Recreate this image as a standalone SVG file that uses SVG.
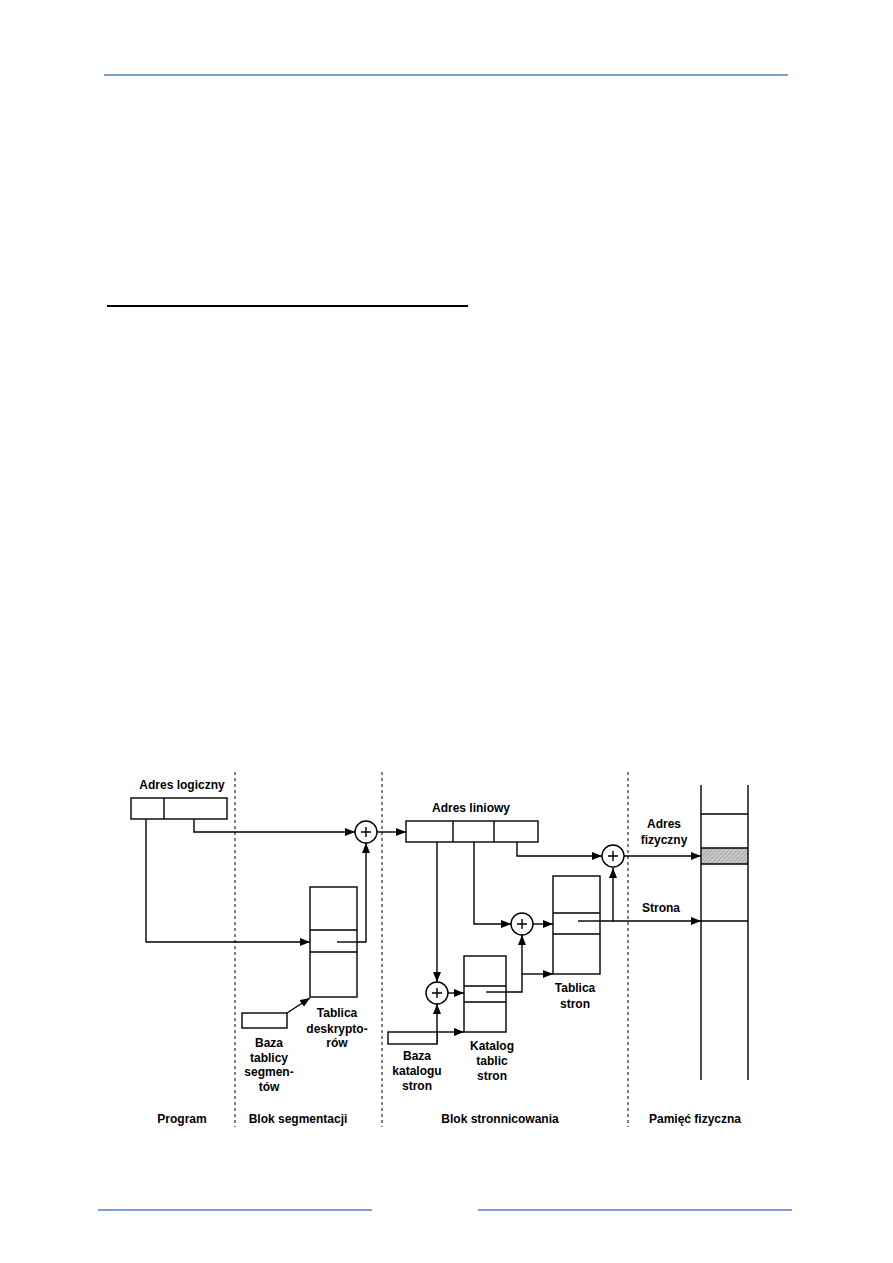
<svg xmlns="http://www.w3.org/2000/svg" width="893" height="1263" viewBox="0 0 893 1263">
<defs>
<marker id="arr" markerUnits="userSpaceOnUse" markerWidth="10" markerHeight="8" refX="10" refY="4" orient="auto">
<path d="M0,0 L10,4 L0,8 z" fill="#000"/>
</marker>
<pattern id="hatch" patternUnits="userSpaceOnUse" width="3" height="3" patternTransform="rotate(45)">
<rect width="3" height="3" fill="#c8c8c8"/>
<line x1="0" y1="0" x2="0" y2="3" stroke="#8a8a8a" stroke-width="1"/>
</pattern>
<style>
.bx{fill:#fff;stroke:#000;stroke-width:1.4}
.ln{fill:none;stroke:#000;stroke-width:1.4}
.cn{fill:none;stroke:#000;stroke-width:1.4;marker-end:url(#arr)}
.dash{stroke:#000;stroke-width:1;stroke-dasharray:3,3}
.t{font-family:"Liberation Sans",Arial,sans-serif;font-size:12px;font-weight:bold;text-anchor:middle;fill:#000}
.blue{stroke:#4f81bd;stroke-width:1.5}
.pl{fill:#fff;stroke:#000;stroke-width:1.4}
</style>
</defs>
<rect width="893" height="1263" fill="#fff"/>
<g id="page">
<line class="blue" x1="104" y1="75" x2="788" y2="75"/>
<line x1="107" y1="306" x2="468" y2="306" stroke="#000" stroke-width="2"/>
<line class="blue" x1="98" y1="1210" x2="372" y2="1210"/>
<line class="blue" x1="478" y1="1210" x2="792" y2="1210"/>
</g>
<g id="separators">
<line class="dash" x1="235" y1="772" x2="235" y2="1127"/>
<line class="dash" x1="382" y1="772" x2="382" y2="1127"/>
<line class="dash" x1="628" y1="772" x2="628" y2="1127"/>
</g>
<g id="connectors">
<path class="cn" d="M146,819 V942 H310"/>
<path class="cn" d="M194,819 V832 H355"/>
<path class="cn" d="M337,942 H366 V843"/>
<path class="cn" d="M377,832 H406"/>
<path class="cn" d="M287,1013 L310,998"/>
<path class="cn" d="M437,842 V982"/>
<path class="cn" d="M474,842 V924 H511"/>
<path class="cn" d="M517,842 V856 H602"/>
<path class="cn" d="M533,924 H553"/>
<path class="cn" d="M448,993 H464"/>
<path class="cn" d="M437,1032 H464"/>
<path class="cn" d="M437,1044 V1004"/>
<path class="cn" d="M486,992 H522 V935"/>
<path class="cn" d="M522,974 H553"/>
<path class="cn" d="M578,921 H701"/>
<path class="cn" d="M613,921 V868"/>
<path class="cn" d="M624,856 H701"/>
</g>
<g id="adres-logiczny">
<text class="t" x="182" y="789">Adres logiczny</text>
<rect class="bx" x="131" y="798" width="96" height="21"/>
<line class="ln" x1="164" y1="798" x2="164" y2="819"/>
</g>
<g id="sum1">
<circle class="pl" cx="366" cy="832" r="11"/>
<path class="ln" d="M361,832 H371 M366,827 V837"/>
</g>
<g id="tablica-deskryptorow">
<rect class="bx" x="310" y="887" width="47" height="110"/>
<line class="ln" x1="310" y1="930" x2="357" y2="930"/>
<line class="ln" x1="310" y1="952" x2="357" y2="952"/>
<line class="ln" x1="337" y1="942" x2="357" y2="942"/>
<text class="t" x="337" y="1017">Tablica</text>
<text class="t" x="337" y="1033">deskrypto-</text>
<text class="t" x="337" y="1047">rów</text>
</g>
<g id="baza-tablicy-segmentow">
<rect class="bx" x="242" y="1013" width="45" height="15"/>
<text class="t" x="269" y="1047">Baza</text>
<text class="t" x="269" y="1062">tablicy</text>
<text class="t" x="269" y="1076">segmen-</text>
<text class="t" x="269" y="1091">tów</text>
</g>
<g id="adres-liniowy">
<text class="t" x="471" y="812">Adres liniowy</text>
<rect class="bx" x="406" y="821" width="132" height="21"/>
<line class="ln" x1="453" y1="821" x2="453" y2="842"/>
<line class="ln" x1="494" y1="821" x2="494" y2="842"/>
</g>
<g id="sum2">
<circle class="pl" cx="522" cy="924" r="11"/>
<path class="ln" d="M517,924 H527 M522,919 V929"/>
</g>
<g id="sum3">
<circle class="pl" cx="437" cy="993" r="11"/>
<path class="ln" d="M432,993 H442 M437,988 V998"/>
</g>
<g id="sum4">
<circle class="pl" cx="613" cy="856" r="11"/>
<path class="ln" d="M608,856 H618 M613,851 V861"/>
</g>
<g id="baza-katalogu-stron">
<rect class="bx" x="388" y="1032" width="49" height="12"/>
<text class="t" x="417" y="1060">Baza</text>
<text class="t" x="417" y="1075">katalogu</text>
<text class="t" x="417" y="1090">stron</text>
</g>
<g id="katalog-tablic-stron">
<rect class="bx" x="464" y="956" width="42" height="76"/>
<line class="ln" x1="464" y1="986" x2="506" y2="986"/>
<line class="ln" x1="464" y1="1002" x2="506" y2="1002"/>
<line class="ln" x1="486" y1="992" x2="506" y2="992"/>
<text class="t" x="492" y="1050">Katalog</text>
<text class="t" x="492" y="1065">tablic</text>
<text class="t" x="492" y="1080">stron</text>
</g>
<g id="tablica-stron">
<rect class="bx" x="553" y="876" width="47" height="98"/>
<line class="ln" x1="553" y1="913" x2="600" y2="913"/>
<line class="ln" x1="553" y1="934" x2="600" y2="934"/>
<line class="ln" x1="578" y1="921" x2="600" y2="921"/>
<text class="t" x="575" y="992">Tablica</text>
<text class="t" x="575" y="1008">stron</text>
</g>
<g id="pamiec-fizyczna">
<rect x="701" y="848" width="47" height="16" fill="url(#hatch)"/>
<line class="ln" x1="701" y1="785" x2="701" y2="1080"/>
<line class="ln" x1="748" y1="785" x2="748" y2="1080"/>
<line class="ln" x1="701" y1="814" x2="748" y2="814"/>
<line class="ln" x1="701" y1="848" x2="748" y2="848"/>
<line class="ln" x1="701" y1="864" x2="748" y2="864"/>
<line class="ln" x1="701" y1="921" x2="748" y2="921"/>
<text class="t" x="664" y="828">Adres</text>
<text class="t" x="664" y="844">fizyczny</text>
<text class="t" x="661" y="912">Strona</text>
</g>
<g id="labels">
<text class="t" x="182" y="1123">Program</text>
<text class="t" x="298" y="1123">Blok segmentacji</text>
<text class="t" x="500" y="1123">Blok stronnicowania</text>
<text class="t" x="695" y="1123">Pamięć fizyczna</text>
</g>
</svg>
